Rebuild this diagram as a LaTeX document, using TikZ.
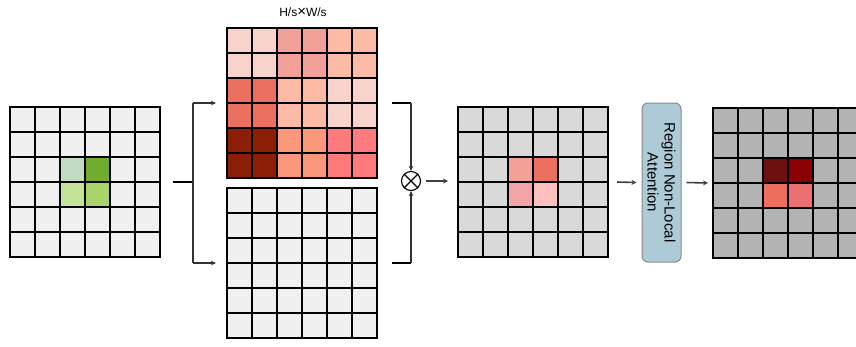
\documentclass[tikz,border=0pt]{standalone}
\usepackage{fontspec}
\setmainfont{Liberation Sans}
\usetikzlibrary{arrows.meta}
\definecolor{bgl}{HTML}{F0F0F0}
\definecolor{bgm}{HTML}{D9D9D9}
\definecolor{bgd}{HTML}{B3B3B3}
\definecolor{gA}{HTML}{C0DCC2}
\definecolor{gB}{HTML}{70AD2F}
\definecolor{gC}{HTML}{C2E398}
\definecolor{gD}{HTML}{A8D46A}
\definecolor{cA}{HTML}{F8D3CC}
\definecolor{cB}{HTML}{F1A197}
\definecolor{cC}{HTML}{FDBBA6}
\definecolor{cD}{HTML}{EB7060}
\definecolor{cE}{HTML}{8B1E05}
\definecolor{cF}{HTML}{FC987A}
\definecolor{cG}{HTML}{FF7A7A}
\definecolor{tA}{HTML}{F3A095}
\definecolor{tB}{HTML}{EB7060}
\definecolor{tC}{HTML}{F2A4A6}
\definecolor{tD}{HTML}{FFBFBF}
\definecolor{fA}{HTML}{6E1010}
\definecolor{fB}{HTML}{8B0000}
\definecolor{fC}{HTML}{EC6E5C}
\definecolor{fD}{HTML}{EC7070}
\definecolor{boxfill}{HTML}{ADCBD6}
\definecolor{boxdraw}{HTML}{8A8A8A}
\tikzset{
  gridline/.style={line width=2.6pt, draw=black},
  conn/.style={line width=1.2pt, draw=black!80},
  arr/.style={conn, -{Stealth[length=5pt,width=4.5pt]}},
  thickarr/.style={line width=1.6pt, draw=black!75, -{Stealth[length=5pt,width=5pt]}},
  stub/.style={line width=2.4pt, draw=black},
  gridnode/.style={minimum width=150pt, minimum height=150pt, inner sep=0pt, outer sep=0pt},
  attbox/.style={draw=boxdraw, line width=1pt, fill=boxfill, rounded corners=6pt,
    minimum width=39pt, minimum height=159pt, inner sep=0pt},
}
\newcommand\gridbg[3]{\fill[#3] (#1,#2) rectangle ++(150,150);}
\newcommand\cellfill[5]{\fill[#5] ({#1+#3*25},{#2+#4*25}) rectangle ++(25,25);}
\newcommand\blockfill[5]{\fill[#5] ({#1+#3*25},{#2+#4*25}) rectangle ++(50,50);}
\newcommand\gridlines[2]{%
  \foreach \k in {1,...,5}{%
    \draw[gridline] ({#1+\k*25},#2) -- ++(0,150);
    \draw[gridline] (#1,{#2+\k*25}) -- ++(150,0);
  }%
  \draw[gridline] (#1,#2) rectangle ++(150,150);}
\begin{document}
\begin{tikzpicture}[x=1pt,y=-1pt]
\useasboundingbox (0,0) rectangle (856,346);
\clip (0,0) rectangle (856,346);
% grid 1 (input)
\gridbg{10}{107}{bgl}
\cellfill{10}{107}{2}{2}{gA}
\cellfill{10}{107}{3}{2}{gB}
\cellfill{10}{107}{2}{3}{gC}
\cellfill{10}{107}{3}{3}{gD}
\gridlines{10}{107}
\node[gridnode] (g1) at (85,182) {};
% grid 2 (top middle)
\blockfill{227}{28}{0}{0}{cA}
\blockfill{227}{28}{2}{0}{cB}
\blockfill{227}{28}{4}{0}{cC}
\blockfill{227}{28}{0}{2}{cD}
\blockfill{227}{28}{2}{2}{cC}
\blockfill{227}{28}{4}{2}{cA}
\blockfill{227}{28}{0}{4}{cE}
\blockfill{227}{28}{2}{4}{cF}
\blockfill{227}{28}{4}{4}{cG}
\gridlines{227}{28}
\node[gridnode] (g2) at (302,103) {};
\node[font=\fontsize{12}{14}\selectfont] (title) at (303,12) {H/s{\fontsize{15}{14}\selectfont ×}W/s};
% grid 2b (bottom middle)
\gridbg{227}{188}{bgl}
\gridlines{227}{188}
\node[gridnode] (g2b) at (302,263) {};
% grid 3
\gridbg{458}{107}{bgm}
\cellfill{458}{107}{2}{2}{tA}
\cellfill{458}{107}{3}{2}{tB}
\cellfill{458}{107}{2}{3}{tC}
\cellfill{458}{107}{3}{3}{tD}
\gridlines{458}{107}
\node[gridnode] (g3) at (533,182) {};
% grid 4
\gridbg{713}{108}{bgd}
\cellfill{713}{108}{2}{2}{fA}
\cellfill{713}{108}{3}{2}{fB}
\cellfill{713}{108}{2}{3}{fC}
\cellfill{713}{108}{3}{3}{fD}
\gridlines{713}{108}
\node[gridnode] (g4) at (788,183) {};
% attention box
\node[attbox] (box) at (661.5,182.5) {};
\node[rotate=-90, align=center, font=\fontsize{15}{17}\selectfont, inner sep=0pt] (boxtext) at (box.center) {Region Non-Local\\Attention};
% multiplication
\node[circle, draw=black, line width=1.1pt, minimum size=19pt, inner sep=0pt] (ot) at (411,181) {};
\draw[line width=1.1pt] (ot.north west) -- (ot.south east) (ot.north east) -- (ot.south west);
% connectors: split
\draw[stub] ([xshift=13pt]g1.east) -- ++(20,0) coordinate (s1);
\draw[conn] (s1 |- g2.west) -- (s1 |- g2b.west);
\draw[arr] (s1 |- g2.west) -- ([xshift=-11pt]g2.west);
\draw[arr] (s1 |- g2b.west) -- ([xshift=-11pt]g2b.west);
% connectors: merge
\draw[stub] ([xshift=15pt]g2.east) -- (ot |- g2.east);
\draw[stub] ([xshift=15pt]g2b.east) -- (ot |- g2b.east);
\draw[arr] (ot |- g2.east) -- (ot.north);
\draw[arr] (ot |- g2b.east) -- (ot.south);
\draw[thickarr] ([xshift=5pt]ot.east) -- ([xshift=-10pt]g3.west |- ot.east);
\draw[thickarr] ([xshift=9pt]g3.east) -- ([xshift=-5pt]box.west);
\draw[thickarr] ([xshift=5pt]box.east) -- ([xshift=-5pt]g4.west);
\end{tikzpicture}
\end{document}
